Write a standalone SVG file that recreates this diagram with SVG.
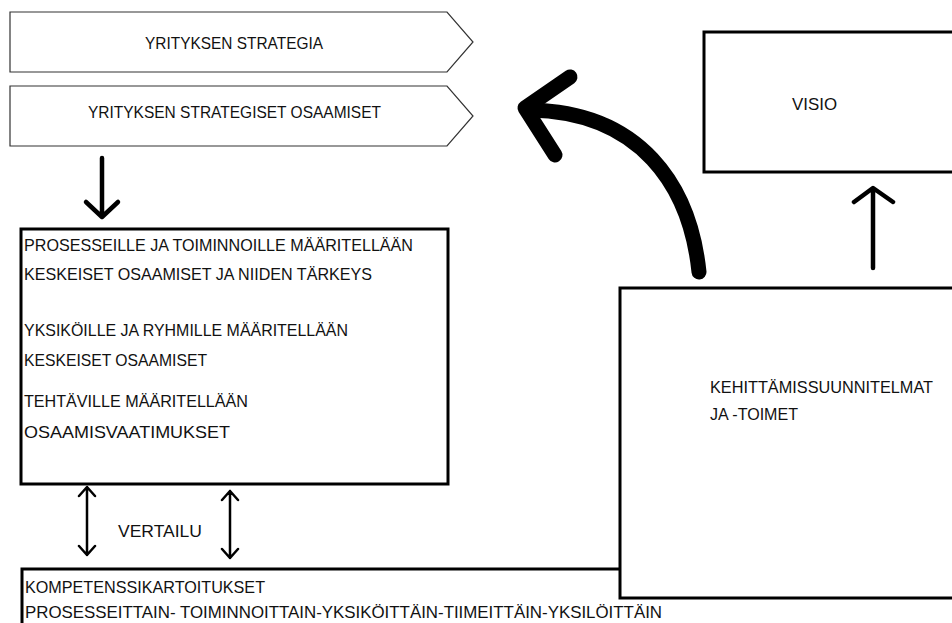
<svg xmlns="http://www.w3.org/2000/svg" width="952" height="623" viewBox="0 0 952 623">
<style>
  text { font-family: "Liberation Sans", Arial, sans-serif; font-size: 16.5px; fill: #111; }
  .chev { fill: #fff; stroke: #333; stroke-width: 1.2; }
  .box { fill: #fff; stroke: #000; stroke-width: 3; }
  .thin { fill: none; stroke: #000; stroke-width: 2.5; stroke-linecap: round; stroke-linejoin: round; }
  .mid { fill: none; stroke: #000; stroke-width: 4.5; stroke-linecap: round; stroke-linejoin: round; }
  .thick { fill: none; stroke: #000; stroke-width: 15; stroke-linecap: round; stroke-linejoin: round; }
</style>
<rect width="952" height="623" fill="#fff"/>

<g id="strategia">
  <polygon class="chev" points="10,12 447,12 473,42 447,72 10,72"/>
  <text x="234" y="49" text-anchor="middle" textLength="178" lengthAdjust="spacingAndGlyphs">YRITYKSEN STRATEGIA</text>
</g>

<g id="strategiset-osaamiset">
  <polygon class="chev" points="10,86 447,86 473,116 447,146 10,146"/>
  <text x="234.5" y="118" text-anchor="middle" textLength="293" lengthAdjust="spacingAndGlyphs">YRITYKSEN STRATEGISET OSAAMISET</text>
</g>

<g id="maarittely">
  <rect class="box" x="21" y="229" width="427" height="255"/>
  <text x="24" y="251" textLength="389" lengthAdjust="spacingAndGlyphs">PROSESSEILLE JA TOIMINNOILLE MÄÄRITELLÄÄN</text>
  <text x="24" y="280" textLength="348" lengthAdjust="spacingAndGlyphs">KESKEISET OSAAMISET JA NIIDEN TÄRKEYS</text>
  <text x="24" y="336" textLength="324" lengthAdjust="spacingAndGlyphs">YKSIKÖILLE JA RYHMILLE MÄÄRITELLÄÄN</text>
  <text x="24" y="366" textLength="183" lengthAdjust="spacingAndGlyphs">KESKEISET OSAAMISET</text>
  <text x="24" y="407" textLength="224" lengthAdjust="spacingAndGlyphs">TEHTÄVILLE MÄÄRITELLÄÄN</text>
  <text x="24" y="438" textLength="206" lengthAdjust="spacingAndGlyphs">OSAAMISVAATIMUKSET</text>
</g>

<g id="kartoitukset">
  <rect class="box" x="22" y="569" width="1000" height="100"/>
  <text x="25" y="593" textLength="240" lengthAdjust="spacingAndGlyphs">KOMPETENSSIKARTOITUKSET</text>
  <text x="25" y="618" textLength="637" lengthAdjust="spacingAndGlyphs">PROSESSEITTAIN- TOIMINNOITTAIN-YKSIKÖITTÄIN-TIIMEITTÄIN-YKSILÖITTÄIN</text>
</g>

<g id="kehittaminen">
  <rect class="box" x="620" y="288" width="340" height="310"/>
  <text x="710" y="393" textLength="223" lengthAdjust="spacingAndGlyphs">KEHITTÄMISSUUNNITELMAT</text>
  <text x="710" y="420" textLength="88" lengthAdjust="spacingAndGlyphs">JA -TOIMET</text>
</g>

<g id="visio">
  <rect class="box" x="704" y="32" width="260" height="140"/>
  <text x="792" y="110" textLength="45" lengthAdjust="spacingAndGlyphs">VISIO</text>
</g>

<g id="connectors">
  <path class="mid" d="M102,158 V216 M86,202 L102,217 L118,202"/>
  <path class="thin" d="M87,488 V555 M79,496 L87,487 L95,496 M79,546 L87,555 L95,546"/>
  <path class="thin" d="M230,491 V558 M222,500 L230,491 L238,500 M222,549 L230,558 L238,549"/>
  <text x="118" y="537" textLength="84" lengthAdjust="spacingAndGlyphs">VERTAILU</text>
  <path class="mid" d="M873,268 V189 M854,202 L873,188 L893,202"/>
  <path class="thick" d="M699,272 C690,185 640,112 530,110"/>
  <path class="thick" d="M570,77 L525,108 L555,155"/>
</g>
</svg>
